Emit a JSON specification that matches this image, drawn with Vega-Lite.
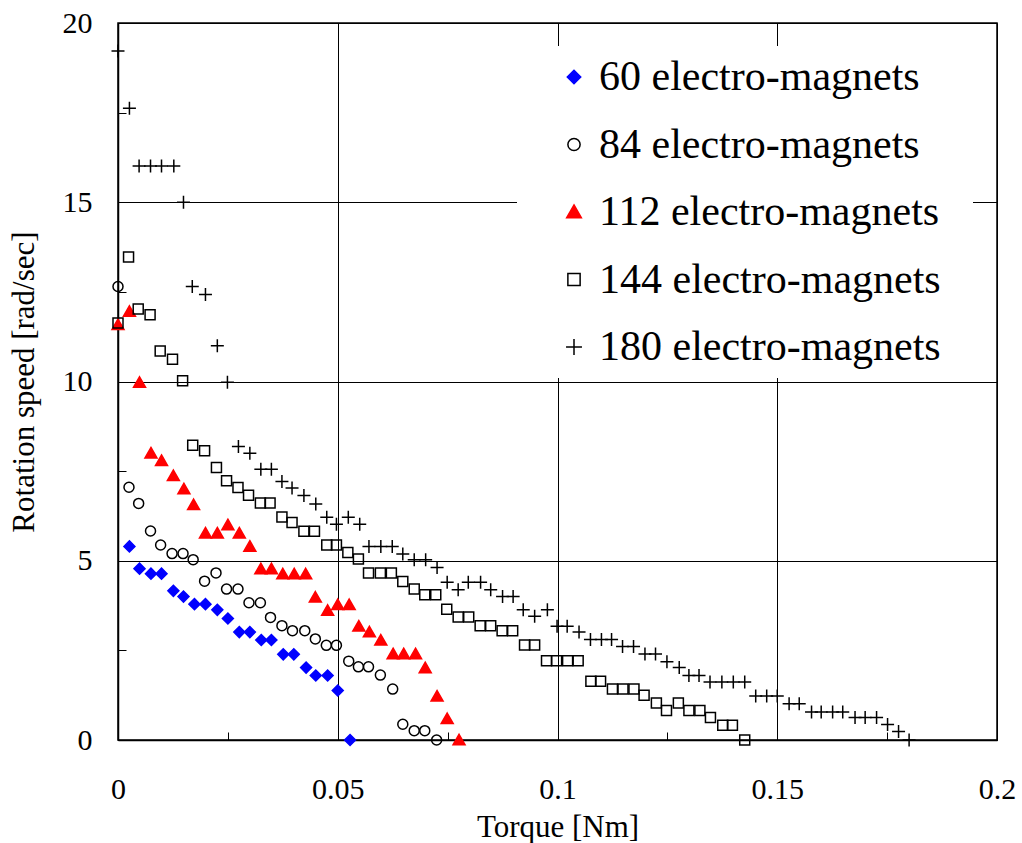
{
  "$schema": "https://vega.github.io/schema/vega-lite/v6.json",
  "width": 879,
  "height": 717,
  "autosize": {"type": "none"},
  "padding": {"left": 118, "top": 23, "right": 25, "bottom": 103},
  "background": "white",
  "config": {
    "font": "Liberation Serif, Times New Roman, DejaVu Serif, serif",
    "view": {"stroke": "black", "strokeWidth": 1.5},
    "axis": {
      "labelFont": "Liberation Serif, Times New Roman, DejaVu Serif, serif",
      "titleFont": "Liberation Serif, Times New Roman, DejaVu Serif, serif",
      "labelFontSize": 30,
      "titleFontSize": 31,
      "titleFontWeight": "normal",
      "labelColor": "black",
      "titleColor": "black",
      "domainColor": "black",
      "domainWidth": 1.5,
      "tickColor": "black",
      "tickWidth": 1,
      "tickSize": -8,
      "gridColor": "black",
      "gridWidth": 1,
      "labelOverlap": false,
      "labelFlush": false,
      "labelBound": false
    },
    "legend": {
      "orient": "none",
      "legendX": 399,
      "legendY": 23,
      "fillColor": "white",
      "padding": 10,
      "labelFont": "Liberation Serif, Times New Roman, DejaVu Serif, serif",
      "labelFontSize": 42,
      "labelColor": "black",
      "labelLimit": 0,
      "rowPadding": 25.5,
      "symbolOffset": 26,
      "labelOffset": 4,
      "symbolSize": 150,
      "titleOrient": "right",
      "titlePadding": 22,
      "titleFontSize": 8
    }
  },
  "data": {
    "values": [
      {"series": "60 electro-magnets", "torque": 0.0026, "speed": 5.40},
      {"series": "60 electro-magnets", "torque": 0.0049, "speed": 4.78},
      {"series": "60 electro-magnets", "torque": 0.0075, "speed": 4.64},
      {"series": "60 electro-magnets", "torque": 0.0099, "speed": 4.64},
      {"series": "60 electro-magnets", "torque": 0.0126, "speed": 4.16},
      {"series": "60 electro-magnets", "torque": 0.0149, "speed": 4.00},
      {"series": "60 electro-magnets", "torque": 0.0174, "speed": 3.79},
      {"series": "60 electro-magnets", "torque": 0.0199, "speed": 3.79},
      {"series": "60 electro-magnets", "torque": 0.0226, "speed": 3.63},
      {"series": "60 electro-magnets", "torque": 0.0250, "speed": 3.39},
      {"series": "60 electro-magnets", "torque": 0.0276, "speed": 3.01},
      {"series": "60 electro-magnets", "torque": 0.0300, "speed": 3.01},
      {"series": "60 electro-magnets", "torque": 0.0326, "speed": 2.79},
      {"series": "60 electro-magnets", "torque": 0.0349, "speed": 2.79},
      {"series": "60 electro-magnets", "torque": 0.0376, "speed": 2.39},
      {"series": "60 electro-magnets", "torque": 0.0400, "speed": 2.39},
      {"series": "60 electro-magnets", "torque": 0.0428, "speed": 2.02},
      {"series": "60 electro-magnets", "torque": 0.0450, "speed": 1.80},
      {"series": "60 electro-magnets", "torque": 0.0477, "speed": 1.80},
      {"series": "60 electro-magnets", "torque": 0.0500, "speed": 1.38},
      {"series": "60 electro-magnets", "torque": 0.0528, "speed": 0},
      {"series": "84 electro-magnets", "torque": 0, "speed": 12.65},
      {"series": "84 electro-magnets", "torque": 0.0025, "speed": 7.05},
      {"series": "84 electro-magnets", "torque": 0.0047, "speed": 6.60},
      {"series": "84 electro-magnets", "torque": 0.0074, "speed": 5.83},
      {"series": "84 electro-magnets", "torque": 0.0097, "speed": 5.44},
      {"series": "84 electro-magnets", "torque": 0.0123, "speed": 5.20},
      {"series": "84 electro-magnets", "torque": 0.0148, "speed": 5.20},
      {"series": "84 electro-magnets", "torque": 0.0171, "speed": 5.03},
      {"series": "84 electro-magnets", "torque": 0.0197, "speed": 4.43},
      {"series": "84 electro-magnets", "torque": 0.0223, "speed": 4.66},
      {"series": "84 electro-magnets", "torque": 0.0247, "speed": 4.21},
      {"series": "84 electro-magnets", "torque": 0.0273, "speed": 4.21},
      {"series": "84 electro-magnets", "torque": 0.0298, "speed": 3.83},
      {"series": "84 electro-magnets", "torque": 0.0324, "speed": 3.83},
      {"series": "84 electro-magnets", "torque": 0.0347, "speed": 3.42},
      {"series": "84 electro-magnets", "torque": 0.0373, "speed": 3.19},
      {"series": "84 electro-magnets", "torque": 0.0397, "speed": 3.05},
      {"series": "84 electro-magnets", "torque": 0.0425, "speed": 3.05},
      {"series": "84 electro-magnets", "torque": 0.0449, "speed": 2.82},
      {"series": "84 electro-magnets", "torque": 0.0474, "speed": 2.64},
      {"series": "84 electro-magnets", "torque": 0.0497, "speed": 2.64},
      {"series": "84 electro-magnets", "torque": 0.0525, "speed": 2.20},
      {"series": "84 electro-magnets", "torque": 0.0547, "speed": 2.04},
      {"series": "84 electro-magnets", "torque": 0.0570, "speed": 2.04},
      {"series": "84 electro-magnets", "torque": 0.0597, "speed": 1.81},
      {"series": "84 electro-magnets", "torque": 0.0625, "speed": 1.42},
      {"series": "84 electro-magnets", "torque": 0.0648, "speed": 0.44},
      {"series": "84 electro-magnets", "torque": 0.0674, "speed": 0.26},
      {"series": "84 electro-magnets", "torque": 0.0698, "speed": 0.26},
      {"series": "84 electro-magnets", "torque": 0.0725, "speed": 0},
      {"series": "112 electro-magnets", "torque": 0, "speed": 11.58},
      {"series": "112 electro-magnets", "torque": 0.0026, "speed": 11.95},
      {"series": "112 electro-magnets", "torque": 0.0049, "speed": 9.97},
      {"series": "112 electro-magnets", "torque": 0.0075, "speed": 8.00},
      {"series": "112 electro-magnets", "torque": 0.0099, "speed": 7.79},
      {"series": "112 electro-magnets", "torque": 0.0126, "speed": 7.37},
      {"series": "112 electro-magnets", "torque": 0.0150, "speed": 7.00},
      {"series": "112 electro-magnets", "torque": 0.0172, "speed": 6.56},
      {"series": "112 electro-magnets", "torque": 0.0199, "speed": 5.77},
      {"series": "112 electro-magnets", "torque": 0.0226, "speed": 5.77},
      {"series": "112 electro-magnets", "torque": 0.0250, "speed": 6.00},
      {"series": "112 electro-magnets", "torque": 0.0276, "speed": 5.77},
      {"series": "112 electro-magnets", "torque": 0.0300, "speed": 5.40},
      {"series": "112 electro-magnets", "torque": 0.0325, "speed": 4.77},
      {"series": "112 electro-magnets", "torque": 0.0349, "speed": 4.77},
      {"series": "112 electro-magnets", "torque": 0.0375, "speed": 4.63},
      {"series": "112 electro-magnets", "torque": 0.0401, "speed": 4.63},
      {"series": "112 electro-magnets", "torque": 0.0427, "speed": 4.63},
      {"series": "112 electro-magnets", "torque": 0.0449, "speed": 3.98},
      {"series": "112 electro-magnets", "torque": 0.0477, "speed": 3.61},
      {"series": "112 electro-magnets", "torque": 0.0500, "speed": 3.77},
      {"series": "112 electro-magnets", "torque": 0.0526, "speed": 3.77},
      {"series": "112 electro-magnets", "torque": 0.0548, "speed": 3.17},
      {"series": "112 electro-magnets", "torque": 0.0572, "speed": 3.01},
      {"series": "112 electro-magnets", "torque": 0.0598, "speed": 2.78},
      {"series": "112 electro-magnets", "torque": 0.0626, "speed": 2.40},
      {"series": "112 electro-magnets", "torque": 0.0650, "speed": 2.40},
      {"series": "112 electro-magnets", "torque": 0.0677, "speed": 2.40},
      {"series": "112 electro-magnets", "torque": 0.0699, "speed": 2.01},
      {"series": "112 electro-magnets", "torque": 0.0726, "speed": 1.22},
      {"series": "112 electro-magnets", "torque": 0.0749, "speed": 0.59},
      {"series": "112 electro-magnets", "torque": 0.0776, "speed": 0},
      {"series": "144 electro-magnets", "torque": 0, "speed": 11.63},
      {"series": "144 electro-magnets", "torque": 0.0024, "speed": 13.47},
      {"series": "144 electro-magnets", "torque": 0.0046, "speed": 12.02},
      {"series": "144 electro-magnets", "torque": 0.0073, "speed": 11.86},
      {"series": "144 electro-magnets", "torque": 0.0096, "speed": 10.85},
      {"series": "144 electro-magnets", "torque": 0.0124, "speed": 10.62},
      {"series": "144 electro-magnets", "torque": 0.0147, "speed": 10.02},
      {"series": "144 electro-magnets", "torque": 0.0170, "speed": 8.22},
      {"series": "144 electro-magnets", "torque": 0.0197, "speed": 8.07},
      {"series": "144 electro-magnets", "torque": 0.0224, "speed": 7.60},
      {"series": "144 electro-magnets", "torque": 0.0247, "speed": 7.23},
      {"series": "144 electro-magnets", "torque": 0.0273, "speed": 7.04},
      {"series": "144 electro-magnets", "torque": 0.0297, "speed": 6.83},
      {"series": "144 electro-magnets", "torque": 0.0324, "speed": 6.61},
      {"series": "144 electro-magnets", "torque": 0.0346, "speed": 6.61},
      {"series": "144 electro-magnets", "torque": 0.0373, "speed": 6.22},
      {"series": "144 electro-magnets", "torque": 0.0396, "speed": 6.07},
      {"series": "144 electro-magnets", "torque": 0.0423, "speed": 5.82},
      {"series": "144 electro-magnets", "torque": 0.0447, "speed": 5.82},
      {"series": "144 electro-magnets", "torque": 0.0475, "speed": 5.44},
      {"series": "144 electro-magnets", "torque": 0.0497, "speed": 5.44},
      {"series": "144 electro-magnets", "torque": 0.0523, "speed": 5.23},
      {"series": "144 electro-magnets", "torque": 0.0547, "speed": 5.05},
      {"series": "144 electro-magnets", "torque": 0.0570, "speed": 4.66},
      {"series": "144 electro-magnets", "torque": 0.0597, "speed": 4.66},
      {"series": "144 electro-magnets", "torque": 0.0622, "speed": 4.66},
      {"series": "144 electro-magnets", "torque": 0.0648, "speed": 4.42},
      {"series": "144 electro-magnets", "torque": 0.0674, "speed": 4.21},
      {"series": "144 electro-magnets", "torque": 0.0698, "speed": 4.05},
      {"series": "144 electro-magnets", "torque": 0.0723, "speed": 4.05},
      {"series": "144 electro-magnets", "torque": 0.0748, "speed": 3.65},
      {"series": "144 electro-magnets", "torque": 0.0774, "speed": 3.43},
      {"series": "144 electro-magnets", "torque": 0.0798, "speed": 3.43},
      {"series": "144 electro-magnets", "torque": 0.0824, "speed": 3.19},
      {"series": "144 electro-magnets", "torque": 0.0848, "speed": 3.19},
      {"series": "144 electro-magnets", "torque": 0.0874, "speed": 3.05},
      {"series": "144 electro-magnets", "torque": 0.0898, "speed": 3.05},
      {"series": "144 electro-magnets", "torque": 0.0925, "speed": 2.65},
      {"series": "144 electro-magnets", "torque": 0.0948, "speed": 2.65},
      {"series": "144 electro-magnets", "torque": 0.0975, "speed": 2.21},
      {"series": "144 electro-magnets", "torque": 0.0998, "speed": 2.21},
      {"series": "144 electro-magnets", "torque": 0.1023, "speed": 2.21},
      {"series": "144 electro-magnets", "torque": 0.1047, "speed": 2.21},
      {"series": "144 electro-magnets", "torque": 0.1076, "speed": 1.64},
      {"series": "144 electro-magnets", "torque": 0.1098, "speed": 1.64},
      {"series": "144 electro-magnets", "torque": 0.1125, "speed": 1.42},
      {"series": "144 electro-magnets", "torque": 0.1149, "speed": 1.42},
      {"series": "144 electro-magnets", "torque": 0.1174, "speed": 1.42},
      {"series": "144 electro-magnets", "torque": 0.1197, "speed": 1.25},
      {"series": "144 electro-magnets", "torque": 0.1225, "speed": 1.03},
      {"series": "144 electro-magnets", "torque": 0.1248, "speed": 0.82},
      {"series": "144 electro-magnets", "torque": 0.1275, "speed": 1.03},
      {"series": "144 electro-magnets", "torque": 0.1299, "speed": 0.82},
      {"series": "144 electro-magnets", "torque": 0.1324, "speed": 0.82},
      {"series": "144 electro-magnets", "torque": 0.1348, "speed": 0.63},
      {"series": "144 electro-magnets", "torque": 0.1376, "speed": 0.41},
      {"series": "144 electro-magnets", "torque": 0.1398, "speed": 0.41},
      {"series": "144 electro-magnets", "torque": 0.1426, "speed": 0},
      {"series": "180 electro-magnets", "torque": 0, "speed": 19.22},
      {"series": "180 electro-magnets", "torque": 0.0026, "speed": 17.62},
      {"series": "180 electro-magnets", "torque": 0.0048, "speed": 16.01},
      {"series": "180 electro-magnets", "torque": 0.0074, "speed": 16.01},
      {"series": "180 electro-magnets", "torque": 0.0099, "speed": 16.01},
      {"series": "180 electro-magnets", "torque": 0.0127, "speed": 16.01},
      {"series": "180 electro-magnets", "torque": 0.0149, "speed": 15.00},
      {"series": "180 electro-magnets", "torque": 0.0169, "speed": 12.65},
      {"series": "180 electro-magnets", "torque": 0.0199, "speed": 12.43},
      {"series": "180 electro-magnets", "torque": 0.0226, "speed": 11.00},
      {"series": "180 electro-magnets", "torque": 0.0249, "speed": 9.98},
      {"series": "180 electro-magnets", "torque": 0.0274, "speed": 8.19},
      {"series": "180 electro-magnets", "torque": 0.0300, "speed": 8.00},
      {"series": "180 electro-magnets", "torque": 0.0325, "speed": 7.55},
      {"series": "180 electro-magnets", "torque": 0.0349, "speed": 7.55},
      {"series": "180 electro-magnets", "torque": 0.0373, "speed": 7.21},
      {"series": "180 electro-magnets", "torque": 0.0396, "speed": 7.03},
      {"series": "180 electro-magnets", "torque": 0.0423, "speed": 6.82},
      {"series": "180 electro-magnets", "torque": 0.0450, "speed": 6.58},
      {"series": "180 electro-magnets", "torque": 0.0475, "speed": 6.21},
      {"series": "180 electro-magnets", "torque": 0.0497, "speed": 6.02},
      {"series": "180 electro-magnets", "torque": 0.0524, "speed": 6.21},
      {"series": "180 electro-magnets", "torque": 0.0550, "speed": 6.02},
      {"series": "180 electro-magnets", "torque": 0.0571, "speed": 5.40},
      {"series": "180 electro-magnets", "torque": 0.0598, "speed": 5.40},
      {"series": "180 electro-magnets", "torque": 0.0624, "speed": 5.40},
      {"series": "180 electro-magnets", "torque": 0.0648, "speed": 5.19},
      {"series": "180 electro-magnets", "torque": 0.0674, "speed": 5.03},
      {"series": "180 electro-magnets", "torque": 0.0700, "speed": 5.03},
      {"series": "180 electro-magnets", "torque": 0.0726, "speed": 4.81},
      {"series": "180 electro-magnets", "torque": 0.0749, "speed": 4.40},
      {"series": "180 electro-magnets", "torque": 0.0774, "speed": 4.19},
      {"series": "180 electro-magnets", "torque": 0.0797, "speed": 4.40},
      {"series": "180 electro-magnets", "torque": 0.0825, "speed": 4.40},
      {"series": "180 electro-magnets", "torque": 0.0848, "speed": 4.19},
      {"series": "180 electro-magnets", "torque": 0.0875, "speed": 4.00},
      {"series": "180 electro-magnets", "torque": 0.0899, "speed": 4.00},
      {"series": "180 electro-magnets", "torque": 0.0922, "speed": 3.63},
      {"series": "180 electro-magnets", "torque": 0.0948, "speed": 3.45},
      {"series": "180 electro-magnets", "torque": 0.0977, "speed": 3.63},
      {"series": "180 electro-magnets", "torque": 0.0999, "speed": 3.17},
      {"series": "180 electro-magnets", "torque": 0.1022, "speed": 3.17},
      {"series": "180 electro-magnets", "torque": 0.1049, "speed": 3.01},
      {"series": "180 electro-magnets", "torque": 0.1075, "speed": 2.80},
      {"series": "180 electro-magnets", "torque": 0.1100, "speed": 2.80},
      {"series": "180 electro-magnets", "torque": 0.1123, "speed": 2.80},
      {"series": "180 electro-magnets", "torque": 0.1148, "speed": 2.61},
      {"series": "180 electro-magnets", "torque": 0.1173, "speed": 2.61},
      {"series": "180 electro-magnets", "torque": 0.1199, "speed": 2.40},
      {"series": "180 electro-magnets", "torque": 0.1223, "speed": 2.40},
      {"series": "180 electro-magnets", "torque": 0.1249, "speed": 2.18},
      {"series": "180 electro-magnets", "torque": 0.1277, "speed": 2.02},
      {"series": "180 electro-magnets", "torque": 0.1299, "speed": 1.80},
      {"series": "180 electro-magnets", "torque": 0.1322, "speed": 1.80},
      {"series": "180 electro-magnets", "torque": 0.1347, "speed": 1.62},
      {"series": "180 electro-magnets", "torque": 0.1374, "speed": 1.62},
      {"series": "180 electro-magnets", "torque": 0.1400, "speed": 1.62},
      {"series": "180 electro-magnets", "torque": 0.1426, "speed": 1.62},
      {"series": "180 electro-magnets", "torque": 0.1451, "speed": 1.23},
      {"series": "180 electro-magnets", "torque": 0.1476, "speed": 1.23},
      {"series": "180 electro-magnets", "torque": 0.1500, "speed": 1.23},
      {"series": "180 electro-magnets", "torque": 0.1527, "speed": 1.01},
      {"series": "180 electro-magnets", "torque": 0.1550, "speed": 1.01},
      {"series": "180 electro-magnets", "torque": 0.1578, "speed": 0.78},
      {"series": "180 electro-magnets", "torque": 0.1600, "speed": 0.78},
      {"series": "180 electro-magnets", "torque": 0.1626, "speed": 0.78},
      {"series": "180 electro-magnets", "torque": 0.1649, "speed": 0.78},
      {"series": "180 electro-magnets", "torque": 0.1677, "speed": 0.63},
      {"series": "180 electro-magnets", "torque": 0.1700, "speed": 0.63},
      {"series": "180 electro-magnets", "torque": 0.1726, "speed": 0.63},
      {"series": "180 electro-magnets", "torque": 0.1751, "speed": 0.43},
      {"series": "180 electro-magnets", "torque": 0.1776, "speed": 0.24},
      {"series": "180 electro-magnets", "torque": 0.1800, "speed": 0}
    ]
  },
  "mark": {"type": "point", "strokeWidth": 1.5, "opacity": 1, "clip": false, "size": 100},
  "encoding": {
    "x": {
      "field": "torque",
      "type": "quantitative",
      "title": "Torque [Nm]",
      "scale": {"domain": [0, 0.2], "nice": false, "zero": false},
      "axis": {
        "values": [0, 0.025, 0.05, 0.075, 0.1, 0.125, 0.15, 0.175, 0.2],
        "labelExpr": "abs(datum.value*20 - round(datum.value*20)) < 0.000001 ? format(datum.value, '~g') : ''",
        "gridOpacity": {"condition": {"test": "abs(datum.value*20 - round(datum.value*20)) < 0.000001", "value": 1}, "value": 0},
        "labelPadding": 42,
        "titlePadding": 8
      }
    },
    "y": {
      "field": "speed",
      "type": "quantitative",
      "title": "Rotation speed [rad/sec]",
      "scale": {"domain": [0, 20], "nice": false, "zero": false},
      "axis": {
        "values": [0, 2.5, 5, 7.5, 10, 12.5, 15, 17.5, 20],
        "labelExpr": "abs(datum.value/5 - round(datum.value/5)) < 0.000001 ? format(datum.value, '~g') : ''",
        "gridOpacity": {"condition": {"test": "abs(datum.value/5 - round(datum.value/5)) < 0.000001", "value": 1}, "value": 0},
        "labelPadding": 34,
        "titlePadding": 22
      }
    },
    "shape": {
      "field": "series",
      "type": "nominal",
      "title": " ",
      "scale": {
        "domain": ["60 electro-magnets", "84 electro-magnets", "112 electro-magnets", "144 electro-magnets", "180 electro-magnets"],
        "range": ["M-1.1,0L0,-1.1L1.1,0L0,1.1Z", "circle", "M0,-1.15L1.2,0.95L-1.2,0.95Z", "square", "M-1.3,0L1.3,0M0,-1.3L0,1.3"]
      }
    },
    "fill": {
      "field": "series",
      "type": "nominal",
      "title": " ",
      "scale": {
        "domain": ["60 electro-magnets", "84 electro-magnets", "112 electro-magnets", "144 electro-magnets", "180 electro-magnets"],
        "range": ["#0000ff", "transparent", "#ff0000", "transparent", "transparent"]
      }
    },
    "stroke": {
      "field": "series",
      "type": "nominal",
      "title": " ",
      "scale": {
        "domain": ["60 electro-magnets", "84 electro-magnets", "112 electro-magnets", "144 electro-magnets", "180 electro-magnets"],
        "range": ["#0000ff", "#000000", "#ff0000", "#000000", "#000000"]
      }
    }
  }
}
